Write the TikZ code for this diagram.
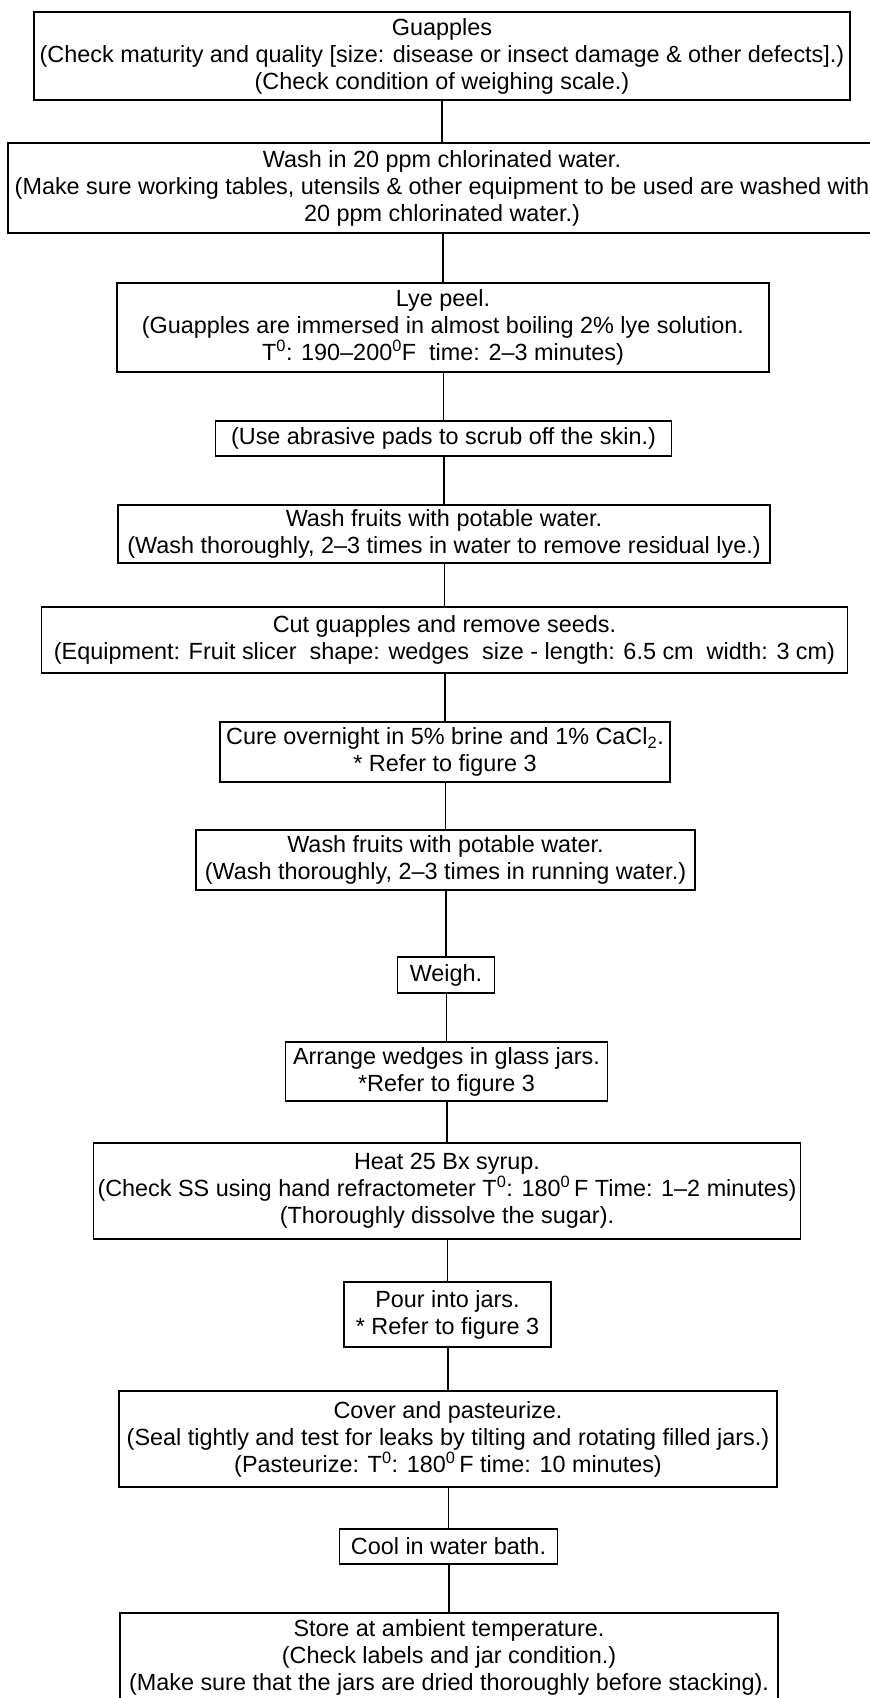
\documentclass[tikz,border=0pt]{standalone}
\usepackage{fontspec}
\setmainfont{Liberation Sans}
\usetikzlibrary{positioning}

\begin{document}
\begin{tikzpicture}[
    x=1pt, y=-1pt,
    box/.style={draw, rectangle, line width=1.6pt, align=center, inner sep=0pt,
        font=\fontsize{23.4}{27}\selectfont},
    link/.style={line width=1.6pt}
]
\useasboundingbox (0,0) rectangle (870,1698);

% Raw fruit and washing
\node[box, minimum width=816, minimum height=88] (guapples) at (442, 56)
    {Guapples\\(Check maturity and quality [size: disease or insect damage \& other defects].)\\(Check condition of weighing scale.)};
\node[box, minimum width=868, minimum height=90] (washA) at (442, 188)
    {Wash in 20 ppm chlorinated water.\\(Make sure working tables, utensils \& other equipment to be used are washed with\\20 ppm chlorinated water.)};

% Peeling
\node[box, minimum width=652, minimum height=89] (lyepeel) at (443, 327.5)
    {Lye peel.\\(Guapples are immersed in almost boiling 2\% lye solution.\\T\textsuperscript{0}: 190--200\textsuperscript{0}F\ \ time: 2--3 minutes)};
\node[box, minimum width=456, minimum height=35] (scrub) at (443.5, 438.5)
    {(Use abrasive pads to scrub off the skin.)};
\node[box, minimum width=652, minimum height=58] (washB) at (444, 534)
    {Wash fruits with potable water.\\(Wash thoroughly, 2--3 times in water to remove residual lye.)};

% Cutting and curing
\node[box, minimum width=806, minimum height=66] (cut) at (444.5, 640)
    {Cut guapples and remove seeds.\\(Equipment: Fruit slicer\ \ shape: wedges\ \ size - length: 6.5 cm\ \ width: 3 cm)};
\node[box, minimum width=450, minimum height=60] (cure) at (445, 752)
    {Cure overnight in 5\% brine and 1\% CaCl\textsubscript{2}.\\* Refer to figure 3};
\node[box, minimum width=499, minimum height=60] (washC) at (445.5, 860)
    {Wash fruits with potable water.\\(Wash thoroughly, 2--3 times in running water.)};
\node[box, minimum width=97, minimum height=36] (weigh) at (446, 975)
    {Weigh.};
\node[box, minimum width=322, minimum height=59] (arrange) at (446.5, 1071.5)
    {Arrange wedges in glass jars.\\*Refer to figure 3};

% Syrup, filling and storage
\node[box, minimum width=707, minimum height=96] (syrup) at (447, 1191)
    {Heat 25 Bx syrup.\\(Check SS using hand refractometer T\textsuperscript{0}: 180\textsuperscript{0}\,F Time: 1--2 minutes)\\(Thoroughly dissolve the sugar).};
\node[box, minimum width=207, minimum height=65] (pour) at (447.5, 1314.5)
    {Pour into jars.\\* Refer to figure 3};
\node[box, minimum width=658, minimum height=96] (pasteurize) at (448, 1439)
    {Cover and pasteurize.\\(Seal tightly and test for leaks by tilting and rotating filled jars.)\\(Pasteurize: T\textsuperscript{0}: 180\textsuperscript{0}\,F time: 10 minutes)};
\node[box, minimum width=218, minimum height=35] (cool) at (448.5, 1546.5)
    {Cool in water bath.};
\node[box, minimum width=658, minimum height=88] (store) at (449, 1657)
    {Store at ambient temperature.\\(Check labels and jar condition.)\\(Make sure that the jars are dried thoroughly before stacking).};

% Connectors
\draw[link] (guapples.south) -- (guapples.south |- washA.north);
\foreach \a/\b in {washA/lyepeel, lyepeel/scrub, scrub/washB, washB/cut, cut/cure,
    cure/washC, washC/weigh, weigh/arrange, arrange/syrup, syrup/pour,
    pour/pasteurize, pasteurize/cool, cool/store}
    \draw[link] (\b.north |- \a.south) -- (\b.north);

\end{tikzpicture}
\end{document}
